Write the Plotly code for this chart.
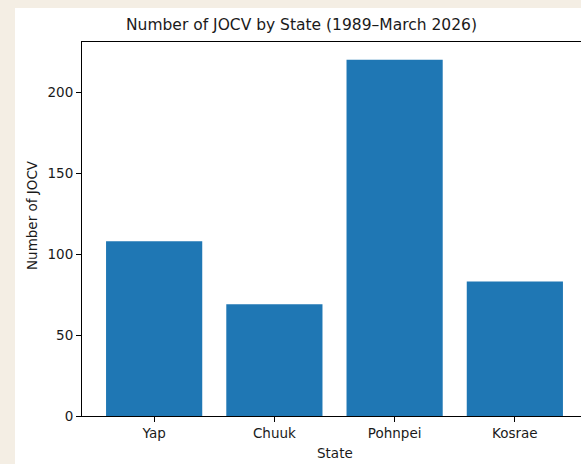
import plotly.graph_objects as go

states = ["Yap", "Chuuk", "Pohnpei", "Kosrae"]
jocv_counts = [108, 69, 220, 83]
y_tick_values = [0, 50, 100, 150, 200]

# Figure is a little wider than the 581px window; the page clips it on the right,
# like the cropped reference (its right spine lies outside the view).
W, H = 589, 464
L, R, T, B = 82, 2, 42, 48
pw, ph = W - L - R, H - T - B

def px_x(x):
    return (x - L) / pw

def px_y(y):
    return (H - B - y) / ph

font_family = "DejaVu Sans"

fig = go.Figure(
    go.Bar(
        x=list(range(len(states))),
        y=jocv_counts,
        width=0.8,
        marker=dict(color="#1f77b4", line=dict(width=0)),
        hoverinfo="skip",
    )
)

fig.update_layout(
    width=W,
    height=H,
    margin=dict(l=L, r=R, t=T, b=B, pad=0),
    paper_bgcolor="#f4eee4",
    plot_bgcolor="white",
    showlegend=False,
    font=dict(family=font_family, size=13.5, color="#1a1a1a"),
    shapes=[
        dict(
            type="rect", xref="paper", yref="paper",
            x0=px_x(15), x1=px_x(W + 5), y0=px_y(H + 5), y1=px_y(8),
            fillcolor="white", line=dict(width=0), layer="below",
        )
    ],
    annotations=[
        dict(text="Number of JOCV by State (1989–March 2026)", xref="paper", yref="paper",
             x=px_x(301), y=px_y(25), showarrow=False, xanchor="center", yanchor="middle",
             font=dict(family=font_family, size=15.5, color="#1a1a1a")),
        dict(text="Number of JOCV", xref="paper", yref="paper",
             x=px_x(32), y=px_y(215), showarrow=False, textangle=-90,
             xanchor="center", yanchor="middle",
             font=dict(family=font_family, size=13.5, color="#1a1a1a")),
        dict(text="State", xref="paper", yref="paper",
             x=px_x(335), y=px_y(453), showarrow=False,
             xanchor="center", yanchor="middle",
             font=dict(family=font_family, size=13.5, color="#1a1a1a")),
    ],
)

fig.update_xaxes(
    range=[-0.6, 3.6],
    tickmode="array",
    tickvals=list(range(len(states))),
    ticktext=states,
    showline=True, linecolor="black", linewidth=1.1, mirror=True,
    ticks="outside", ticklen=5, tickwidth=1.1, tickcolor="black",
    showgrid=False, zeroline=False, fixedrange=True,
)
fig.update_yaxes(
    range=[0, 231],
    tickmode="array",
    tickvals=y_tick_values,
    showline=True, linecolor="black", linewidth=1.1, mirror=True,
    ticks="outside", ticklen=5, tickwidth=1.1, tickcolor="black",
    showgrid=False, zeroline=False, fixedrange=True,
)

fig.write_html(
    "out.html",
    config={"displayModeBar": False},
    post_script="document.body.style.margin='0';document.body.style.padding='0';"
                "document.body.style.overflow='hidden';"
                "document.documentElement.style.overflow='hidden';",
)
